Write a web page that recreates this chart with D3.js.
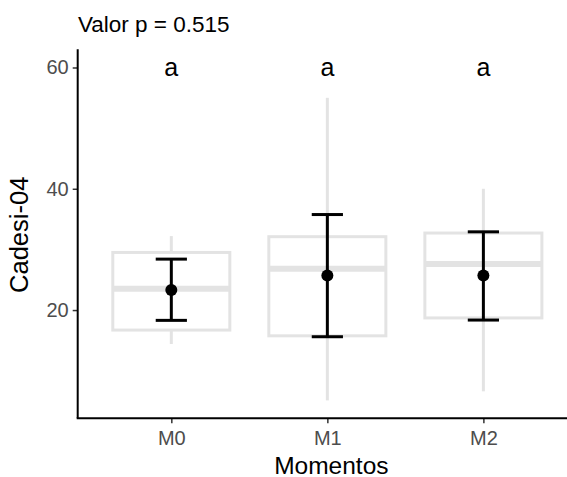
<!DOCTYPE html>
<html>
<head>
<meta charset="utf-8">
<script src="https://cdn.jsdelivr.net/npm/d3@7"></script>
<style>
  html, body { margin: 0; padding: 0; background: #fff; }
  svg { display: block; font-family: "Liberation Sans", Arial, sans-serif; }
</style>
</head>
<body>
<svg id="chart" width="567" height="477"></svg>
<script>
// Moments and Cadesi-04 summary statistics
const categories   = ["M0", "M1", "M2"];
const whiskerLow   = [14.4, 5.1, 6.6];
const boxQ1        = [16.7, 15.75, 18.7];
const boxMedian    = [23.5, 26.8, 27.6];
const boxQ3        = [29.5, 32.1, 32.7];
const whiskerHigh  = [32.2, 55, 40];
const meanValue    = [23.3, 25.7, 25.7];
const errLow       = [18.3, 15.6, 18.35];
const errHigh      = [28.4, 35.75, 32.9];
const groupLetters = ["a", "a", "a"];
const yTicks       = [20, 40, 60];
const letterY      = 60;
const pValue       = "0.515";

const svg = d3.select("#chart");

const plot = { left: 77.7, right: 577, top: 49.3, bottom: 418.3 };

const x = d3.scalePoint()
  .domain(categories)
  .range([plot.left, plot.right])
  .padding(0.6);
const step = x.step();

const y = d3.scaleLinear()
  .domain([2.15, 63.0])
  .range([plot.bottom, plot.top]);

const rows = categories.map((c, i) => ({
  c, lo: whiskerLow[i], q1: boxQ1[i], med: boxMedian[i], q3: boxQ3[i], hi: whiskerHigh[i],
  mean: meanValue[i], eLo: errLow[i], eHi: errHigh[i], letter: groupLetters[i]
}));

const boxColor = "#e3e3e3";
const g = svg.append("g");

// whiskers (outside the box only)
g.selectAll(".wh-up").data(rows).join("line")
  .attr("x1", d => x(d.c)).attr("x2", d => x(d.c))
  .attr("y1", d => y(d.q3)).attr("y2", d => y(d.hi))
  .attr("stroke", boxColor).attr("stroke-width", 3);
g.selectAll(".wh-dn").data(rows).join("line")
  .attr("x1", d => x(d.c)).attr("x2", d => x(d.c))
  .attr("y1", d => y(d.q1)).attr("y2", d => y(d.lo))
  .attr("stroke", boxColor).attr("stroke-width", 3);

// boxes
const bw = step * 0.75;
g.selectAll(".box").data(rows).join("rect")
  .attr("x", d => x(d.c) - bw / 2)
  .attr("width", bw)
  .attr("y", d => y(d.q3))
  .attr("height", d => y(d.q1) - y(d.q3))
  .attr("fill", "#fff")
  .attr("stroke", boxColor).attr("stroke-width", 3);

// medians
g.selectAll(".med").data(rows).join("line")
  .attr("x1", d => x(d.c) - bw / 2).attr("x2", d => x(d.c) + bw / 2)
  .attr("y1", d => y(d.med)).attr("y2", d => y(d.med))
  .attr("stroke", boxColor).attr("stroke-width", 6);

// error bars around the mean
const cw = step * 0.2;
g.selectAll(".eb").data(rows).join("line")
  .attr("x1", d => x(d.c)).attr("x2", d => x(d.c))
  .attr("y1", d => y(d.eLo)).attr("y2", d => y(d.eHi))
  .attr("stroke", "#000").attr("stroke-width", 3);
g.selectAll(".cap-hi").data(rows).join("line")
  .attr("x1", d => x(d.c) - cw / 2).attr("x2", d => x(d.c) + cw / 2)
  .attr("y1", d => y(d.eHi)).attr("y2", d => y(d.eHi))
  .attr("stroke", "#000").attr("stroke-width", 3);
g.selectAll(".cap-lo").data(rows).join("line")
  .attr("x1", d => x(d.c) - cw / 2).attr("x2", d => x(d.c) + cw / 2)
  .attr("y1", d => y(d.eLo)).attr("y2", d => y(d.eLo))
  .attr("stroke", "#000").attr("stroke-width", 3);
g.selectAll(".pt").data(rows).join("circle")
  .attr("cx", d => x(d.c)).attr("cy", d => y(d.mean))
  .attr("r", 6).attr("fill", "#000");

// group letters
g.selectAll(".letter").data(rows).join("text")
  .attr("x", d => x(d.c)).attr("y", y(letterY))
  .attr("dy", "0.33em")
  .attr("text-anchor", "middle")
  .attr("font-size", 25).attr("fill", "#000")
  .text(d => d.letter);

// axes
const yAxis = d3.axisLeft(y).tickValues(yTicks).tickSize(5).tickPadding(4);
const yG = svg.append("g").attr("transform", `translate(${plot.left},0)`).call(yAxis);
const xAxis = d3.axisBottom(x).tickSize(5).tickPadding(4);
const xG = svg.append("g").attr("transform", `translate(0,${plot.bottom})`).call(xAxis);

[yG, xG].forEach(a => {
  a.select(".domain").remove();
  a.selectAll(".tick line").attr("stroke", "#333").attr("stroke-width", 1.5);
  a.selectAll(".tick text").attr("fill", "#4d4d4d").attr("font-size", 20)
    .attr("font-family", "'Liberation Sans', Arial, sans-serif");
});
xG.selectAll(".tick text").attr("dy", "0.9em");

// axis lines
svg.append("line")
  .attr("x1", plot.left).attr("x2", plot.left)
  .attr("y1", plot.top).attr("y2", plot.bottom)
  .attr("stroke", "#000").attr("stroke-width", 2);
svg.append("line")
  .attr("x1", plot.left - 1).attr("x2", plot.right)
  .attr("y1", plot.bottom).attr("y2", plot.bottom)
  .attr("stroke", "#000").attr("stroke-width", 2);

// titles
svg.append("text")
  .attr("x", 78).attr("y", 31.5)
  .attr("font-size", 22.5).attr("fill", "#000")
  .text(`Valor p = ${pValue}`);

svg.append("text")
  .attr("x", (plot.left + plot.right) / 2 + 4).attr("y", 473.5)
  .attr("text-anchor", "middle")
  .attr("font-size", 24.5).attr("fill", "#000")
  .text("Momentos");

svg.append("text")
  .attr("transform", `translate(28,${(plot.top + plot.bottom) / 2 + 1}) rotate(-90)`)
  .attr("text-anchor", "middle")
  .attr("font-size", 25.5).attr("fill", "#000")
  .text("Cadesi-04");
</script>
</body>
</html>
